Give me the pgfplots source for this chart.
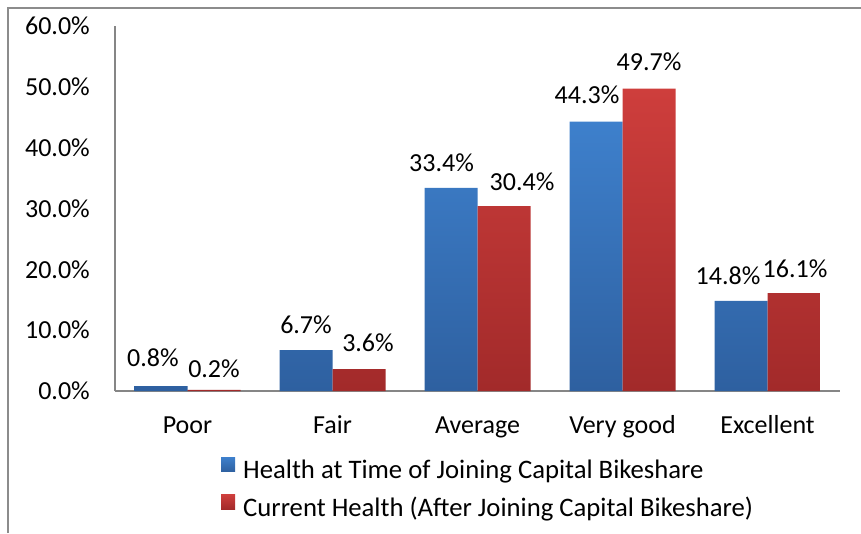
\documentclass[border=0pt]{standalone}
\usepackage{pgfplots}
\usepackage{pgfplotstable}
\pgfplotsset{compat=1.18}
\usepackage{fontspec}
\setmainfont{Carlito}
\definecolor{bluetop}{RGB}{62,128,204}
\definecolor{bluebot}{RGB}{46,96,160}
\definecolor{redtop}{RGB}{206,62,60}
\definecolor{redbot}{RGB}{162,42,42}
\definecolor{axisgray}{RGB}{134,134,134}
\definecolor{framegray}{RGB}{140,140,140}
\newcommand{\bigfont}{\fontsize{26}{31}\selectfont}
\newcommand{\legfont}{\fontsize{26.7}{32}\selectfont}
\pgfplotstableread{
x y dx dy
0 0.8 -8 28
1 6.7 0 26
2 33.4 -9.5 25
3 44.3 -9 27
4 14.8 -13 25
}\joinhealth
\pgfplotstableread{
x y dx dy
0 0.2 0 21.5
1 3.6 9 26
2 30.4 18 24
3 49.7 0 26.5
4 16.1 1 24
}\currenthealth
\begin{document}
\bigfont
\begin{tikzpicture}
\useasboundingbox (0,0) rectangle (861pt,533pt);
\draw[framegray, line width=2pt] (8pt,0) -- (8pt,525pt) -- (861pt,525pt);
\begin{axis}[
  at={(115pt,142pt)}, anchor=south west, scale only axis,
  width=725pt, height=365pt,
  xmin=-0.5, xmax=4.5, ymin=0, ymax=60,
  ybar=0pt, bar width=53pt,
  axis lines*=left,
  axis line style={axisgray, line width=1.2pt},
  xtick={0,...,4}, xticklabels={Poor,Fair,Average,Very good,Excellent},
  ytick={0,10,...,60},
  major tick length=0pt,
  yticklabel={\pgfmathprintnumber[fixed,fixed zerofill,precision=1]{\tick}\%},
  /pgf/number format/assume math mode=true,
  tick label style={font=\bigfont},
  yticklabel style={anchor=east, inner sep=0pt, xshift=-25pt},
  xticklabel style={anchor=base, inner sep=0pt, yshift=-42pt},
  visualization depends on={\thisrow{dx} \as \labdx},
  visualization depends on={\thisrow{dy} \as \labdy},
  nodes near coords={\pgfmathprintnumber[fixed,fixed zerofill,precision=1]{\pgfplotspointmeta}\%},
  nodes near coords style={font=\bigfont, anchor=center, inner sep=0pt, xshift=\labdx pt, yshift=\labdy pt},
  legend style={at={(axis description cs:0.1462,-0.1808)}, anchor=north west, draw=none, fill=none, inner sep=0pt, row sep=10pt, font=\legfont,
    nodes={inner sep=0pt, text height=20pt, text depth=6pt}},
  legend cell align=left,
  legend image code/.code={\path[#1] (0pt,0pt) rectangle (14pt,14.5pt); \path (0pt,0pt) -- (22pt,0pt);},
]
\addplot[draw=none, top color=bluetop, bottom color=bluebot] table[x=x,y=y] {\joinhealth};
\addlegendentry{Health at Time of Joining Capital Bikeshare}
\addplot[draw=none, top color=redtop, bottom color=redbot] table[x=x,y=y] {\currenthealth};
\addlegendentry{Current Health (After Joining Capital Bikeshare)}
\end{axis}
\end{tikzpicture}
\end{document}
